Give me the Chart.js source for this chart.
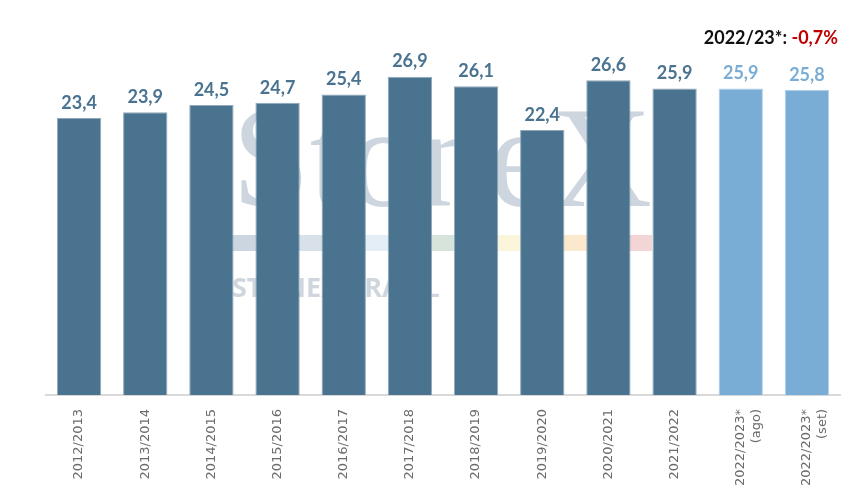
<!DOCTYPE html>
<html><head><meta charset="utf-8">
<script src="https://cdn.jsdelivr.net/npm/chart.js@4"></script>
<style>html,body{margin:0;padding:0;background:#fff}#w{width:851px;height:503px}</style>
</head><body><div id="w"><canvas id="c"></canvas></div>
<script>
const categories = [
  "2012/2013","2013/2014","2014/2015","2015/2016","2016/2017","2017/2018",
  "2018/2019","2019/2020","2020/2021","2021/2022",["2022/2023*","(ago)"],["2022/2023*","(set)"]
];
const values = [23.4,23.9,24.5,24.7,25.4,26.9,26.1,22.4,26.6,25.9,25.9,25.8];
const isForecast = [false,false,false,false,false,false,false,false,false,false,true,true];
const annotationLabel = "2022/23*: ";
const annotationValue = "-0,7%";

const DARK = "#4a7390", LIGHT = "#7aadd5";
const LDARK = "#4a7391", LLIGHT = "#7aadd5";

const fmt = v => v.toFixed(1).replace(".", ",");

const overlay = {
  id: "overlay",
  beforeDatasetsDraw(chart) {
    const ctx = chart.ctx;
    ctx.save();
    ctx.fillStyle = "#cdd6df";
    ctx.font = "145px 'Liberation Serif', serif";
    ctx.textBaseline = "alphabetic";
    ctx.textAlign = "left";
    const w = ctx.measureText("StoneX").width;
    ctx.save();
    ctx.translate(232, 206);
    ctx.scale(420 / w, 1);
    ctx.fillText("StoneX", 0, 0);
    ctx.restore();
    const cols = ["#ccd6e0","#d8e0ea","#e3eef6","#d6e4dc","#fbf5dc","#fce8cc","#f3d5d5"];
    const xs = [232, 300, 365, 430, 497, 563, 628, 652];
    for (let i = 0; i < cols.length; i++) {
      ctx.fillStyle = cols[i];
      ctx.fillRect(xs[i], 235, xs[i+1] - xs[i], 16);
    }
    ctx.fillStyle = "#cfd6dd";
    ctx.font = "bold 27px 'Open Sans', sans-serif";
    ctx.fillText("STONEX BRASIL", 232, 297);
    ctx.restore();
  },
  afterDatasetsDraw(chart) {
    const ctx = chart.ctx;
    const meta = chart.getDatasetMeta(0);
    ctx.save();
    ctx.font = "bold 18px Lato, sans-serif";
    ctx.textAlign = "center";
    ctx.textBaseline = "bottom";
    meta.data.forEach((bar, i) => {
      ctx.fillStyle = isForecast[i] ? LLIGHT : LDARK;
      ctx.fillText(fmt(values[i]), bar.x, bar.y - 6);
    });
    ctx.font = "bold 18px Lato, sans-serif";
    ctx.textAlign = "left";
    ctx.textBaseline = "alphabetic";
    const w1 = ctx.measureText(annotationLabel).width;
    const w2 = ctx.measureText(annotationValue).width;
    const right = 838;
    const x0 = right - w1 - w2;
    ctx.fillStyle = "#111";
    ctx.fillText(annotationLabel, x0, 44);
    ctx.fillStyle = "#c00000";
    ctx.fillText(annotationValue, x0 + w1, 44);
    ctx.restore();
  }
};

new Chart(document.getElementById("c"), {
  type: "bar",
  data: {
    labels: categories,
    datasets: [{
      data: values,
      backgroundColor: isForecast.map(f => f ? LIGHT : DARK),
      borderColor: isForecast.map(f => f ? "#b4d0e8" : "#8fa9bb"),
      borderWidth: 1,
      categoryPercentage: 0.67,
      barPercentage: 1.0
    }]
  },
  options: {
    responsive: true,
    maintainAspectRatio: false,
    animation: false,
    layout: { padding: { left: 46, right: 11, top: 40, bottom: 11 } },
    plugins: { legend: { display: false }, tooltip: { enabled: false } },
    scales: {
      x: {
        grid: { display: false, drawTicks: true },
        border: { color: "#d9d9d9", width: 2 },
        ticks: {
          color: "#6b6b6b",
          font: { family: "'DejaVu Sans', sans-serif", size: 13 },
          minRotation: 90, maxRotation: 90, autoSkip: false, padding: 6
        }
      },
      y: {
        display: false,
        min: 0, max: 30
      }
    }
  },
  plugins: [overlay]
});
</script>
</body></html>
